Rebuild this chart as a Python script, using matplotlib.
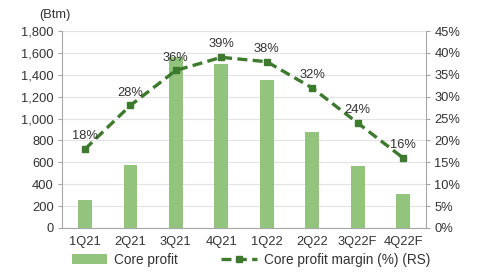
import matplotlib
matplotlib.use("Agg")
import matplotlib.pyplot as plt
from matplotlib.ticker import FuncFormatter, MultipleLocator

plt.rcParams['font.family'] = ['Liberation Sans', 'DejaVu Sans']

categories = ["1Q21", "2Q21", "3Q21", "4Q21", "1Q22", "2Q22", "3Q22F", "4Q22F"]
core_profit = [255, 575, 1560, 1500, 1350, 875, 570, 315]
margin_pct = [18, 28, 36, 39, 38, 32, 24, 16]

bar_color = "#93c47d"
line_color = "#3d7a2e"
text_color = "#333333"
grid_color = "#e3e3e3"
spine_color = "#a6a6a6"
fs = 9.3

fig = plt.figure(figsize=(4.78, 2.75), dpi=100)
ax = fig.add_axes([0.13, 0.171, 0.761, 0.716])
x = list(range(len(categories)))
ax.bar(x, core_profit, width=0.3, color=bar_color, label="Core profit", zorder=2)
ax.set_ylim(0, 1800)
ax.set_xlim(-0.5, len(categories) - 0.5)
ax.yaxis.set_major_locator(MultipleLocator(200))
ax.yaxis.set_major_formatter(FuncFormatter(lambda v, p: f"{int(v):,}"))
ax.grid(axis='y', color=grid_color, linewidth=0.8, zorder=0)
ax.set_axisbelow(True)
ax.set_xticks(x)
ax.set_xticklabels(categories)
ax.tick_params(axis='x', length=0, pad=6, labelsize=fs, colors=text_color)
ax.tick_params(axis='y', length=3, width=0.8, color=spine_color, labelsize=fs, labelcolor=text_color, pad=3)
for s in ['top', 'right']:
    ax.spines[s].set_visible(False)
for s in ['left', 'bottom']:
    ax.spines[s].set_color(spine_color)
    ax.spines[s].set_linewidth(0.8)

ax2 = ax.twinx()
ln, = ax2.plot(x, margin_pct, linestyle=(0, (3, 1.6)), color=line_color, linewidth=2.4,
               marker='s', markersize=4.5, label="Core profit margin (%) (RS)", zorder=3)
ax2.set_ylim(0, 45)
ax2.yaxis.set_major_locator(MultipleLocator(5))
ax2.yaxis.set_major_formatter(FuncFormatter(lambda v, p: f"{int(v)}%"))
ax2.tick_params(axis='y', length=3, width=0.8, color=spine_color, labelsize=fs, labelcolor=text_color, pad=3)
for s in ['top', 'left', 'bottom']:
    ax2.spines[s].set_visible(False)
ax2.spines['right'].set_color(spine_color)
ax2.spines['right'].set_linewidth(0.8)

for xi, m in zip(x, margin_pct):
    ax2.annotate(f"{m}%", (xi, m), xytext=(0, 5), textcoords='offset points',
                 ha='center', va='bottom', fontsize=fs, color=text_color, zorder=4)

fig.text(0.083, 0.925, "(Btm)", fontsize=fs, color=text_color, ha='left', va='bottom')

handles = [ax.patches[0], ln]
fig.legend(handles, ["Core profit", "Core profit margin (%) (RS)"], loc='lower center',
           bbox_to_anchor=(0.525, -0.015), ncol=2, frameon=False, fontsize=9.8,
           handlelength=2.6, columnspacing=3.2, handletextpad=0.5, labelcolor=text_color)

fig.savefig("out.png", dpi=100)
